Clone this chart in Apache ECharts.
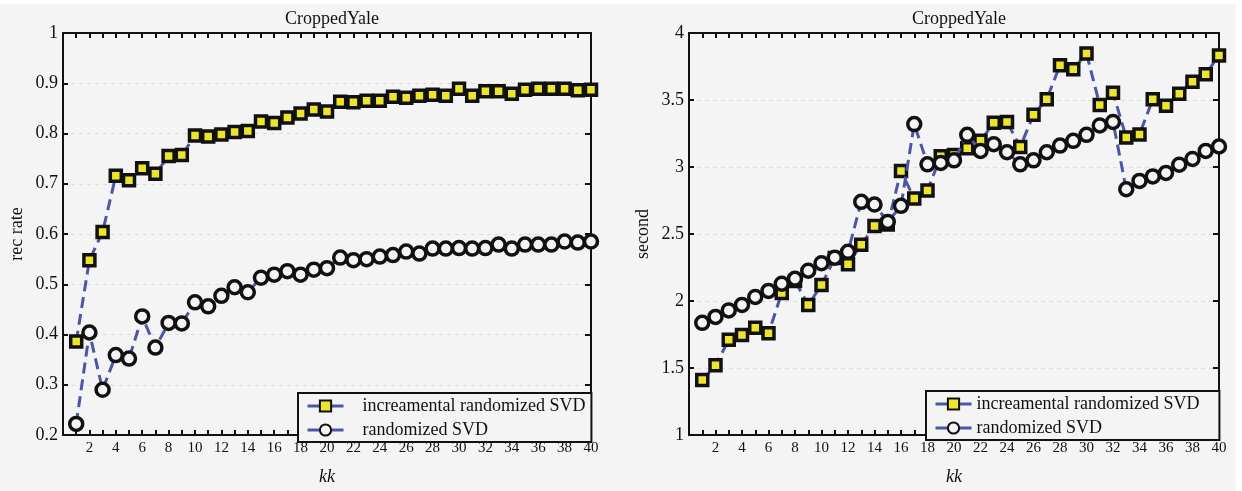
<!DOCTYPE html>
<html>
<head>
<meta charset="utf-8">
<script src="https://cdn.jsdelivr.net/npm/echarts@6/dist/echarts.min.js"></script>
<style>
html,body{margin:0;padding:0;background:#ffffff;}
#c{position:absolute;left:0;top:4px;width:1236px;height:487px;}
</style>
</head>
<body>
<div id="c"></div>
<script>
const kk = [1,2,3,4,5,6,7,8,9,10,11,12,13,14,15,16,17,18,19,20,21,22,23,24,25,26,27,28,29,30,31,32,33,34,35,36,37,38,39,40];
const recInc = [0.386,0.548,0.604,0.716,0.707,0.731,0.720,0.755,0.757,0.796,0.794,0.798,0.803,0.805,0.824,0.821,0.832,0.840,0.848,0.844,0.863,0.862,0.865,0.865,0.873,0.871,0.875,0.877,0.875,0.889,0.875,0.884,0.884,0.879,0.887,0.889,0.889,0.889,0.886,0.887];
const recRand = [0.222,0.404,0.290,0.359,0.352,0.436,0.374,0.423,0.422,0.464,0.456,0.477,0.494,0.484,0.513,0.519,0.526,0.519,0.529,0.532,0.553,0.548,0.550,0.555,0.558,0.565,0.561,0.571,0.571,0.572,0.571,0.572,0.579,0.571,0.579,0.579,0.579,0.585,0.583,0.585];
const timeInc = [1.41,1.52,1.71,1.747,1.80,1.76,2.06,2.15,1.97,2.12,2.32,2.275,2.42,2.56,2.57,2.97,2.764,2.825,3.08,3.09,3.14,3.195,3.33,3.336,3.15,3.39,3.506,3.76,3.73,3.847,3.462,3.555,3.22,3.243,3.506,3.458,3.547,3.637,3.693,3.832];
const timeRand = [1.837,1.881,1.93,1.971,2.03,2.075,2.129,2.166,2.226,2.282,2.323,2.367,2.74,2.72,2.59,2.71,3.32,3.02,3.03,3.05,3.24,3.12,3.17,3.11,3.02,3.05,3.11,3.16,3.195,3.24,3.31,3.336,2.834,2.896,2.93,2.956,3.017,3.06,3.12,3.153];
const titles = ['CroppedYale','CroppedYale'];
const yNames = ['rec rate','second'];
const xName = 'kk';
const seriesNames = ['increamental randomized SVD','randomized SVD'];

const FONT = '"Liberation Serif","DejaVu Serif",serif';
const BG = '#f4f4f4';
const INK = '#111111';
const LINE = '#4d56a6';

function pairs(arr){ return kk.map((k,i)=>[k, arr[i]]); }

function xAxes(gi){
  return [
    {gridIndex:gi, type:'value', min:0, max:40, interval:1, position:'bottom',
     axisLine:{onZero:false, lineStyle:{color:INK,width:2}},
     axisTick:{inside:true,length:5,lineStyle:{color:INK,width:2}},
     axisLabel:{fontFamily:FONT,fontSize:15,color:INK,margin:6,
       formatter:v=> (v>0 && v%2===0) ? String(v) : ''},
     splitLine:{show:false},
     name:xName, nameLocation:'middle', nameGap:33,
     nameTextStyle:{fontFamily:FONT,fontSize:18,fontStyle:'italic',color:INK}},
    {gridIndex:gi, type:'value', min:0, max:40, interval:1, position:'top',
     axisLine:{onZero:false, lineStyle:{color:INK,width:2}},
     axisTick:{inside:true,length:5,lineStyle:{color:INK,width:2}},
     axisLabel:{show:false}, splitLine:{show:false}}
  ];
}
function yAxes(gi,min,max,interval,name){
  return [
    {gridIndex:gi, type:'value', min:min, max:max, interval:interval, position:'left',
     axisLine:{show:true,onZero:false,lineStyle:{color:INK,width:2}},
     axisTick:{show:true,inside:true,length:5,lineStyle:{color:INK,width:2}},
     axisLabel:{fontFamily:FONT,fontSize:18,color:INK,margin:5},
     splitLine:{show:true,lineStyle:{color:'#dcdcdc',type:[4,4],width:1}},
     name:name, nameLocation:'middle', nameGap:37,
     nameTextStyle:{fontFamily:FONT,fontSize:18,color:INK}},
    {gridIndex:gi, type:'value', min:min, max:max, interval:interval, position:'right',
     axisLine:{show:true,onZero:false,lineStyle:{color:INK,width:2}},
     axisTick:{show:true,inside:true,length:6,lineStyle:{color:INK,width:2}},
     axisLabel:{show:false}, splitLine:{show:false}}
  ];
}
function sq(name,data,xi,yi){
  return {name:name,type:'line',xAxisIndex:xi,yAxisIndex:yi,data:pairs(data),
    symbol:'rect',symbolSize:11,z:2,
    lineStyle:{color:LINE,width:3,type:[11,6]},
    itemStyle:{color:'#ece52c',borderColor:'#111',borderWidth:3.5}};
}
function ci(name,data,xi,yi){
  return {name:name,type:'line',xAxisIndex:xi,yAxisIndex:yi,data:pairs(data),
    symbol:'circle',symbolSize:13,z:3,
    lineStyle:{color:LINE,width:3,type:[11,6]},
    itemStyle:{color:BG,borderColor:'#111',borderWidth:3.5}};
}
function legend(left,top,tp,pr){
  return {left:left,top:top,orient:'vertical',data:seriesNames,
    backgroundColor:BG,borderColor:INK,borderWidth:2,borderRadius:0,
    padding:[4,pr,3,8],itemGap:6,itemWidth:36,itemHeight:14,
    lineStyle:{type:'solid',width:3},
    textStyle:{fontFamily:FONT,fontSize:18,color:INK,padding:[0,0,0,tp]}};
}

const chart = echarts.init(document.getElementById('c'),null,{renderer:'canvas'});
chart.setOption({
  backgroundColor:BG,
  animation:false,
  title:[
    {text:titles[0],left:327,top:1,textAlign:'center',textStyle:{fontFamily:FONT,fontSize:18,fontWeight:'normal',color:INK}},
    {text:titles[1],left:954,top:1,textAlign:'center',textStyle:{fontFamily:FONT,fontSize:18,fontWeight:'normal',color:INK}}
  ],
  grid:[
    {left:63,top:29,width:528,height:411},
    {left:689,top:29,width:530,height:411}
  ],
  xAxis:[...xAxes(0),...xAxes(1)],
  yAxis:[...yAxes(0,0.2,1,0.1,yNames[0]),...yAxes(1,1,4,0.5,yNames[1])],
  legend:[legend(298,389,14,6),legend(926,387,0,20)],
  series:[
    sq(seriesNames[0],recInc,0,0),
    ci(seriesNames[1],recRand,0,0),
    sq(seriesNames[0],timeInc,2,2),
    ci(seriesNames[1],timeRand,2,2)
  ]
});
</script>
</body>
</html>
